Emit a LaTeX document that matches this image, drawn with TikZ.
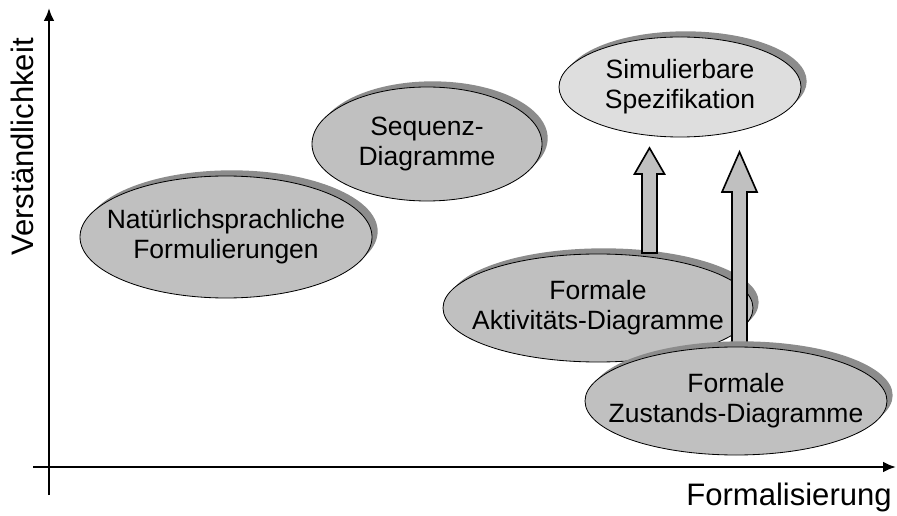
\documentclass[tikz,border=0pt]{standalone}
\usepackage{fontspec}
\setmainfont{Liberation Sans}
\usetikzlibrary{arrows.meta,shadows}

\definecolor{bubblegray}{RGB}{192,192,192}
\definecolor{lightbubble}{RGB}{222,222,222}
\definecolor{shadowgray}{RGB}{140,140,140}

\tikzset{
  bubble/.style={draw=black, line width=0.7pt, fill=bubblegray,
    drop shadow={shadow xshift=0.17cm, shadow yshift=0.17cm, opacity=1, fill=shadowgray}},
  bubbletext/.style={align=center, font=\fontsize{22.6}{25.5}\selectfont},
  axislabel/.style={font=\fontsize{26.5}{30}\selectfont},
  axis/.style={line width=2.2pt, -{Latex[length=0.39cm,width=0.33cm]}},
  blockarrow/.style={draw=black, line width=1.4pt, fill=bubblegray, line join=miter},
}

\begin{document}
\begin{tikzpicture}[x=0.03cm, y=-0.03cm]

\useasboundingbox (0,0) rectangle (897,516);

% ============================
% Axes
% ============================
\coordinate (yfoot) at (49,495);
\coordinate (ytop)  at (49,8);
\coordinate (xfoot) at (33,467);
\coordinate (xtip)  at (896,467);

\draw[axis] (yfoot) -- (ytop);
\draw[axis] (xfoot) -- (xtip);

\node[axislabel, rotate=90, anchor=base] (ylabel) at (33,147) {Verständlichkeit};
\node[axislabel, anchor=base] (xlabel) at (789,505) {Formalisierung};

% ============================
% Ellipses
% ============================
\draw[bubble] (427,144) ellipse [x radius=115, y radius=57];
\node[bubbletext] (seq) at (427,144) {Sequenz-\\Diagramme};

\draw[bubble] (226,237) ellipse [x radius=146, y radius=61];
\node[bubbletext] (nat) at (226,237) {Natürlichsprachliche\\Formulierungen};

\draw[bubble, fill=lightbubble] (680,87) ellipse [x radius=121, y radius=50];
\node[bubbletext] (sim) at (680,87) {Simulierbare\\Spezifikation};

\draw[bubble] (598,308) ellipse [x radius=155, y radius=54];
\node[bubbletext] (akt) at (598,308) {Formale\\Aktivitäts-Diagramme};

% ============================
% Block arrows
% ============================
\coordinate (akttop)  at (649.5,253);
\coordinate (simfoot) at (649.5,148);
\draw[blockarrow] (akttop) ++(-7.5,0) -- ++(0,-79) -- ++(-7.5,0) -- (simfoot)
    -- ++(15,26) -- ++(-7.5,0) -- ++(0,79) -- cycle;

\coordinate (zsttop)   at (739.5,345);
\coordinate (simfoot2) at (739.5,152);
\draw[blockarrow] (zsttop) ++(-7.5,0) -- ++(0,-153) -- ++(-10,0) -- (simfoot2)
    -- ++(17.5,40) -- ++(-10,0) -- ++(0,153) -- cycle;

% Zustands on top of the long arrow
\draw[bubble] (736,401) ellipse [x radius=151, y radius=54];
\node[bubbletext] (zst) at (736,401) {Formale\\Zustands-Diagramme};

\end{tikzpicture}
\end{document}
